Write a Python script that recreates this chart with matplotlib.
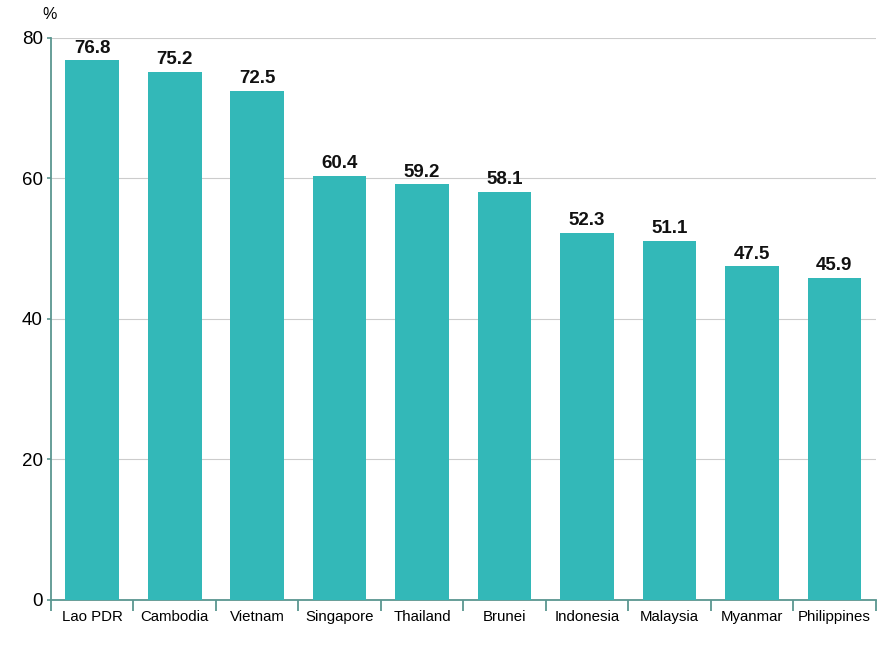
import numpy as np
import matplotlib.pyplot as plt
from matplotlib.ticker import FixedLocator

plt.rcParams['font.family'] = ['Liberation Sans', 'DejaVu Sans']

countries = ['Lao PDR', 'Cambodia', 'Vietnam', 'Singapore', 'Thailand',
             'Brunei', 'Indonesia', 'Malaysia', 'Myanmar', 'Philippines']
values = [76.8, 75.2, 72.5, 60.4, 59.2, 58.1, 52.3, 51.1, 47.5, 45.9]

bar_color = '#33b8b8'
axis_color = '#5a9690'

fig = plt.figure(figsize=(8.89, 6.45), dpi=100)
ax = fig.add_axes([0.0574, 0.0698, 0.9276, 0.8713])

x = np.arange(len(countries))
bars = ax.bar(x, values, width=0.65, color=bar_color, zorder=3)
for xi, v in zip(x, values):
    ax.text(xi, v + 0.5, f'{v:.1f}', ha='center', va='bottom',
            fontsize=13.5, fontweight='bold', color='#111111')

ax.set_xlim(-0.5, len(countries) - 0.5)
ax.set_ylim(0, 80)
ax.set_yticks([0, 20, 40, 60, 80])
ax.grid(axis='y', color='#cccccc', linewidth=0.8, zorder=0)

ax.set_xticks(x)
ax.set_xticklabels(countries, fontsize=10.8)
ax.tick_params(axis='x', which='major', length=0, pad=7)
ax.xaxis.set_minor_locator(FixedLocator(np.arange(-0.5, len(countries), 1.0)))
ax.tick_params(axis='x', which='minor', length=8, width=1.3, color=axis_color, direction='out')
ax.tick_params(axis='y', length=3, width=1.2, color=axis_color, labelsize=13.5, pad=3)

for s in ['top', 'right']:
    ax.spines[s].set_visible(False)
for s in ['left', 'bottom']:
    ax.spines[s].set_color(axis_color)
    ax.spines[s].set_linewidth(1.3)

fig.text(0.048, 0.978, '%', fontsize=11.5, ha='left', va='center')

fig.savefig('out.png', dpi=100)
